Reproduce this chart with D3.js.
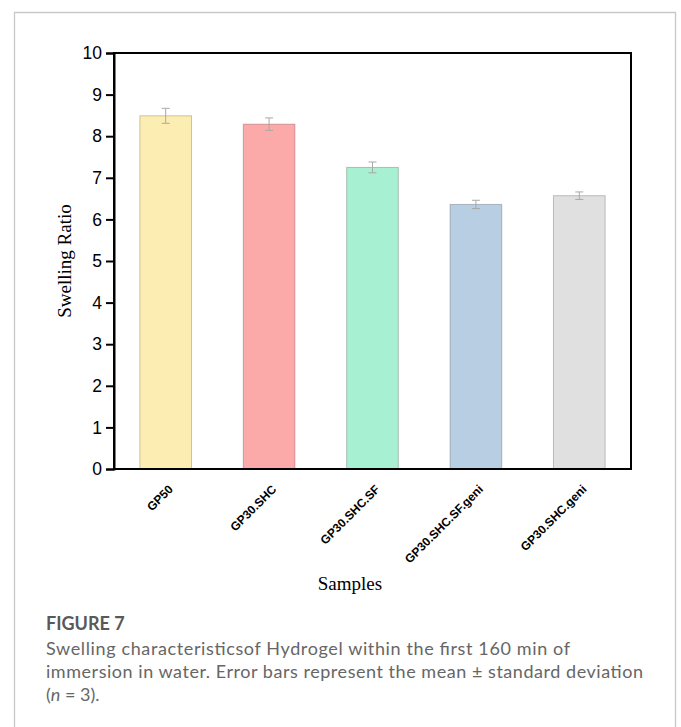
<!DOCTYPE html>
<html><head><meta charset="utf-8">
<script src="https://cdn.jsdelivr.net/npm/d3@7"></script>
<style>
html,body{margin:0;padding:0;background:#fff;}
svg{display:block;}
</style></head>
<body>
<script>
const categories = ["GP50","GP30.SHC","GP30.SHC.SF","GP30.SHC.SF.geni","GP30.SHC.geni"];
const values = [8.49, 8.29, 7.25, 6.36, 6.57];
const errors = [0.18, 0.15, 0.13, 0.10, 0.09];
const colors = ["#FCEEB2","#FCA9AA","#A7F0D1","#B8CEE3","#E0E0E0"];
const yTicks = [0,1,2,3,4,5,6,7,8,9,10];
const yLabel = "Swelling Ratio";
const xLabel = "Samples";
const figTitle = "FIGURE 7";
const captionLines = [
  "Swelling characteristicsof Hydrogel within the first 160 min of",
  "immersion in water. Error bars represent the mean \u00B1 standard deviation",
  "(n = 3)."
];

const W = 681, H = 727;
const svg = d3.select("body").append("svg").attr("width", W).attr("height", H);

// figure frame
svg.append("path")
  .attr("d", "M14.5,740 V12.5 H675.5 V740")
  .attr("fill","none").attr("stroke","#c8c8c8").attr("stroke-width",1.3);

const m = {left:114, right:631, top:53, bottom:469};
const x = d3.scaleBand().domain(categories).range([m.left, m.right]).paddingInner(0.5).paddingOuter(0.25);
const y = d3.scaleLinear().domain([0,10]).range([m.bottom, m.top]);

const g = svg.append("g");

// bars
g.selectAll("rect.bar").data(categories).join("rect")
  .attr("class","bar")
  .attr("x", d => x(d))
  .attr("width", x.bandwidth())
  .attr("y", (d,i) => y(values[i]))
  .attr("height", (d,i) => y(0) - y(values[i]))
  .attr("fill", (d,i) => colors[i])
  .attr("stroke", "rgba(0,0,0,0.22)")
  .attr("stroke-width", 1);

// error bars
const eb = g.selectAll("g.err").data(categories).join("g").attr("class","err")
  .attr("stroke","#a8a8a8").attr("stroke-width",1).attr("fill","none");
eb.append("line")
  .attr("x1", d => x(d)+x.bandwidth()/2).attr("x2", d => x(d)+x.bandwidth()/2)
  .attr("y1", (d,i) => y(values[i]+errors[i])).attr("y2", (d,i) => y(values[i]-errors[i]));
eb.append("line")
  .attr("x1", d => x(d)+x.bandwidth()/2-4).attr("x2", d => x(d)+x.bandwidth()/2+4)
  .attr("y1", (d,i) => y(values[i]+errors[i])).attr("y2", (d,i) => y(values[i]+errors[i]));
eb.append("line")
  .attr("x1", d => x(d)+x.bandwidth()/2-4).attr("x2", d => x(d)+x.bandwidth()/2+4)
  .attr("y1", (d,i) => y(values[i]-errors[i])).attr("y2", (d,i) => y(values[i]-errors[i]));

// plot frame
g.append("rect")
  .attr("x", m.left).attr("y", m.top)
  .attr("width", m.right-m.left).attr("height", m.bottom-m.top)
  .attr("fill","none").attr("stroke","#000").attr("stroke-width",2);

// y axis
const yAxis = g.append("g").attr("transform",`translate(${m.left},0)`)
  .call(d3.axisLeft(y).tickValues(yTicks).tickSize(8).tickPadding(4).tickFormat(d3.format("d")));
yAxis.select(".domain").attr("stroke-width",2);
yAxis.selectAll(".tick line").attr("stroke-width",2);
yAxis.selectAll(".tick text")
  .attr("font-family","'Liberation Sans', Arial, sans-serif")
  .attr("font-size",17.5).attr("fill","#000");

// x labels
g.selectAll("text.xl").data(categories).join("text")
  .attr("class","xl")
  .attr("transform", d => `translate(${x(d)+x.bandwidth()/2+8},${m.bottom+21}) rotate(-45)`)
  .attr("text-anchor","end")
  .attr("font-family","'Liberation Sans', Arial, sans-serif")
  .attr("font-weight","bold")
  .attr("font-size",12)
  .attr("fill","#000")
  .text(d => d);

// axis titles
svg.append("text")
  .attr("transform", `translate(71,${(m.top+m.bottom)/2}) rotate(-90)`)
  .attr("text-anchor","middle")
  .attr("font-family","'Liberation Serif', 'Times New Roman', serif")
  .attr("font-size",19).attr("fill","#000")
  .text(yLabel);
svg.append("text")
  .attr("x", 350).attr("y", 590)
  .attr("text-anchor","middle")
  .attr("font-family","'Liberation Serif', 'Times New Roman', serif")
  .attr("font-size",19).attr("fill","#000")
  .text(xLabel);

// caption
svg.append("text")
  .attr("x", 46).attr("y", 630)
  .attr("font-family","Lato, 'Open Sans', sans-serif")
  .attr("font-weight","bold")
  .attr("font-size",18).attr("fill","#595959")
  .text(figTitle);
const capWidths = [524, 597, null];
captionLines.forEach((t,i) => {
  const tx = svg.append("text")
    .attr("x", 46).attr("y", 655 + i*23)
    .attr("font-family","Lato, 'Open Sans', sans-serif")
    .attr("font-size",18).attr("fill","#666");
  if (i === 2) {
    tx.append("tspan").text("(");
    tx.append("tspan").attr("font-style","italic").text("n");
    tx.append("tspan").text(" = 3).");
  } else {
    tx.text(t);
    if (capWidths[i]) tx.attr("textLength", capWidths[i]).attr("lengthAdjust","spacing");
  }
});
</script>
</body></html>
